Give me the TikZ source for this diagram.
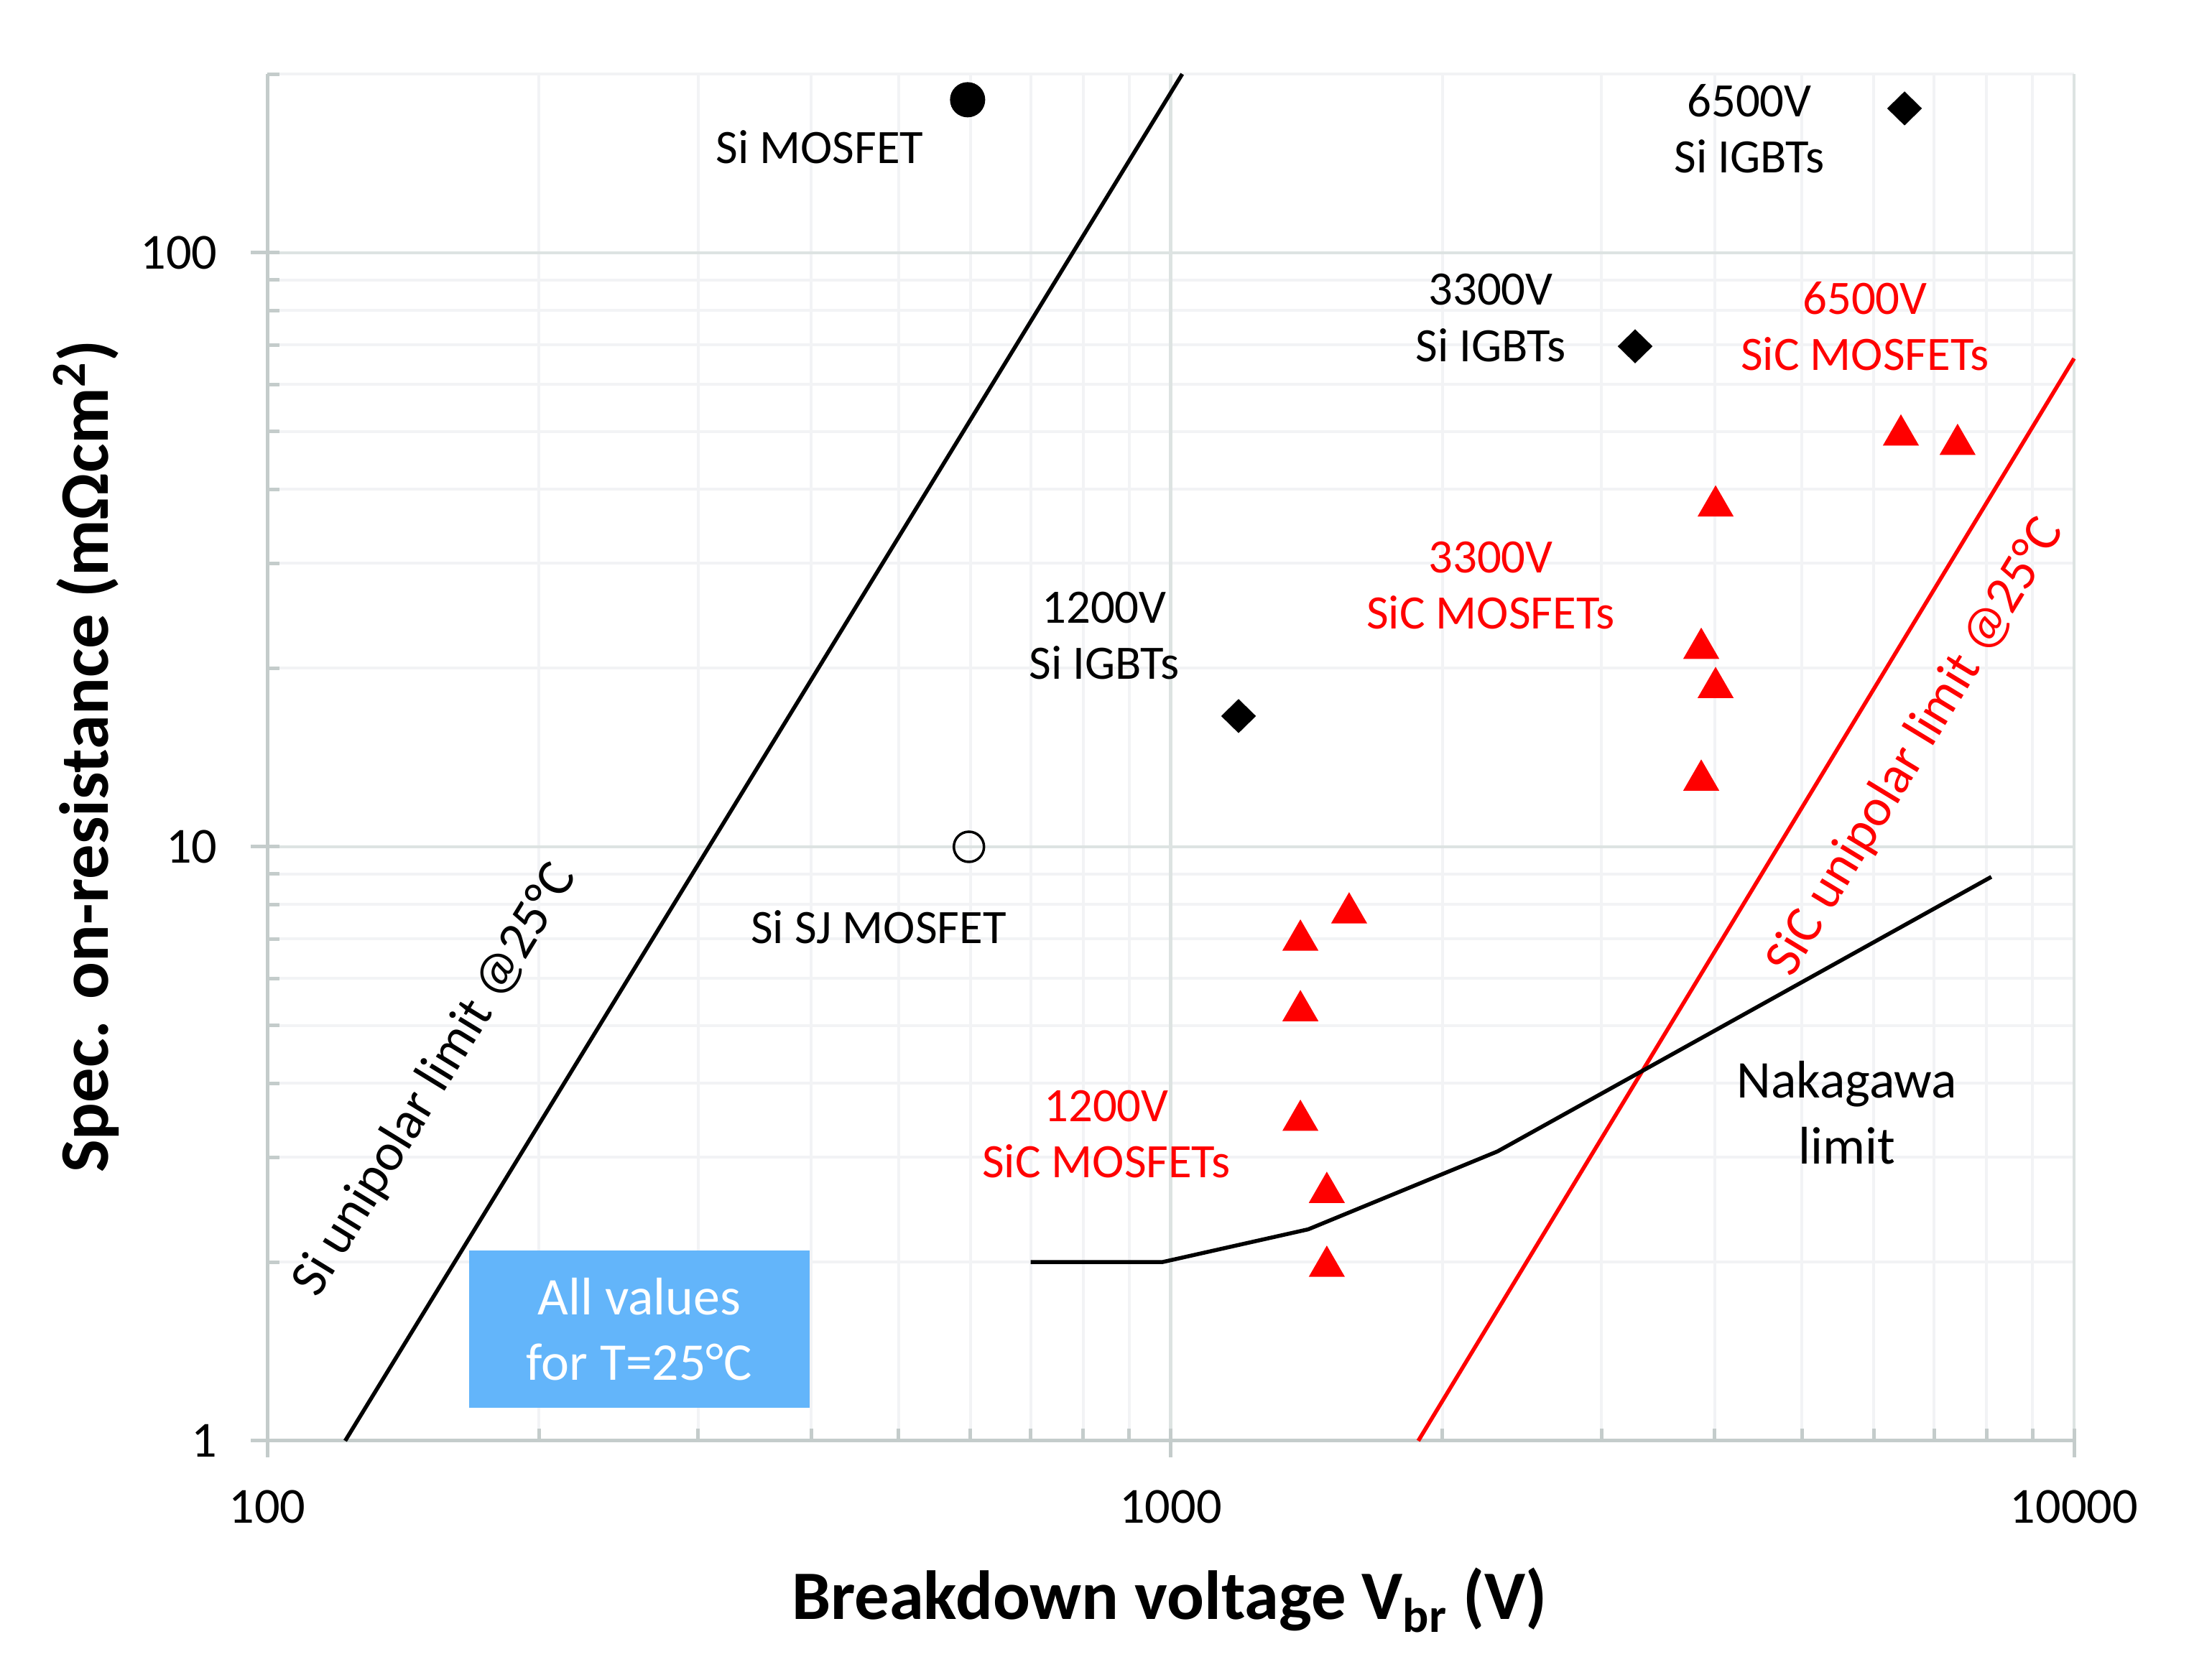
\documentclass[tikz,border=0pt]{standalone}
\usepackage{fontspec}
\setmainfont{Carlito}
\usetikzlibrary{positioning, shapes.geometric}

\definecolor{axisgray}{RGB}{196,204,203}
\definecolor{gridmajor}{RGB}{221,227,226}
\definecolor{gridminor}{RGB}{242,243,245}
\definecolor{notebox}{RGB}{99,181,250}
\definecolor{sicred}{RGB}{255,0,0}

\begin{document}
\begin{tikzpicture}[
    lim/.style={line width=0.055cm, line join=round},
    igbt/.style={diamond, fill=black, inner sep=0pt, minimum width=0.49cm, minimum height=0.48cm},
    sictri/.style={regular polygon, regular polygon sides=3, fill=sicred, inner sep=0pt, minimum size=0.58cm, yshift=-0.07cm},
    lbl/.style={font=\fontsize{19}{22.3}\selectfont, align=center, inner sep=0pt},
    biglbl/.style={font=\fontsize{21}{26}\selectfont, align=center, inner sep=0pt},
    ticklbl/.style={font=\fontsize{20}{24}\selectfont, inner sep=0pt},
    axtitle/.style={font=\bfseries\fontsize{27.5}{33}\selectfont, inner sep=0pt}
]
\useasboundingbox (0,0) rectangle (30.47,23.39);

% log-log plot area: x = log10(V)-2, y = log10(R)
\begin{scope}[shift={(3.72,3.33)}, x=12.575cm, y=8.27cm]

% grid
\foreach \d in {0,1}
  \foreach \m in {2,...,9} {
    \draw[gridminor, line width=0.04cm] ({\d+log10(\m)},0) -- ({\d+log10(\m)},{log10(200)});
    \draw[gridminor, line width=0.04cm] (0,{\d+log10(\m)}) -- (2,{\d+log10(\m)});
  }
\draw[gridminor, line width=0.04cm] (0,{log10(200)}) -- (2,{log10(200)});
\foreach \d in {1,2} {
  \draw[gridmajor, line width=0.045cm] (\d,0) -- (\d,{log10(200)});
  \draw[gridmajor, line width=0.045cm] (0,\d) -- (2,\d);
}

% axes and ticks
\foreach \d in {0,1}
  \foreach \m in {2,...,9} {
    \draw[axisgray, line width=0.05cm] ({\d+log10(\m)},0) -- ++(0,0.17cm);
    \draw[axisgray, line width=0.05cm] (0,{\d+log10(\m)}) -- ++(0.17cm,0);
  }
\draw[axisgray, line width=0.05cm] (0,{log10(200)}) -- ++(0.17cm,0);
\foreach \d in {0,1,2} {
  \draw[axisgray, line width=0.05cm] (\d,0) ++(0,0.17cm) -- ++(0,-0.40cm);
  \draw[axisgray, line width=0.05cm] (0,\d) ++(0.17cm,0) -- ++(-0.40cm,0);
}
\draw[axisgray, line width=0.05cm] (0,{log10(200)}) -- (0,0) -- (2,0);

% tick labels
\node[ticklbl, anchor=east, xshift=-0.69cm] (ty1) at (0,0) {1};
\node[ticklbl, anchor=east, xshift=-0.69cm] (ty10) at (0,1) {10};
\node[ticklbl, anchor=east, xshift=-0.69cm] (ty100) at (0,2) {100};
\node[ticklbl, yshift=-0.92cm] (tx100) at (0,0) {100};
\node[ticklbl, yshift=-0.92cm] (tx1000) at (1,0) {1000};
\node[ticklbl, yshift=-0.92cm] (tx10000) at (2,0) {10000};

% limits
\coordinate (silo) at ({log10(122)-2},0);
\coordinate (sihi) at ({log10(1030)-2},{log10(200)});
\coordinate (siclo) at ({log10(1880)-2},0);
\coordinate (sichi) at (2,{log10(66.4)});
\coordinate (nk1) at ({log10(700)-2},{log10(2)});
\coordinate (nk2) at ({log10(980)-2},{log10(2)});
\coordinate (nk3) at ({log10(1420)-2},{log10(2.27)});
\coordinate (nk4) at ({log10(2300)-2},{log10(3.07)});
\coordinate (nk5) at ({log10(8100)-2},{log10(8.9)});

\draw[lim] (silo) -- (sihi);
\draw[lim, sicred] (siclo) -- (sichi);
\draw[lim] (nk1) -- (nk2) -- (nk3) -- (nk4) -- (nk5);

% devices
\node[circle, fill=black, inner sep=0pt, minimum size=0.49cm] (simos) at ({log10(596)-2},{log10(181)}) {};
\node[circle, draw=black, line width=0.035cm, inner sep=0pt, minimum size=0.42cm] (sisj) at ({log10(598)-2},1) {};
\node[igbt] (igbt12) at ({log10(1189)-2},{log10(16.6)}) {};
\node[igbt] (igbt33) at ({log10(3267)-2},{log10(69.6)}) {};
\node[igbt] (igbt65) at ({log10(6492)-2},{log10(175)}) {};
\node[sictri] (sic12a) at ({log10(1392)-2},{log10(7.10)}) {};
\node[sictri] (sic12b) at ({log10(1576)-2},{log10(7.89)}) {};
\node[sictri] (sic12c) at ({log10(1392)-2},{log10(5.40)}) {};
\node[sictri] (sic12d) at ({log10(1392)-2},{log10(3.53)}) {};
\node[sictri] (sic12e) at ({log10(1489)-2},{log10(2.67)}) {};
\node[sictri] (sic12f) at ({log10(1489)-2},{log10(2.005)}) {};
\node[sictri] (sic33a) at ({log10(4011)-2},{log10(38.2)}) {};
\node[sictri] (sic33b) at ({log10(3867)-2},{log10(22.0)}) {};
\node[sictri] (sic33c) at ({log10(4011)-2},{log10(18.9)}) {};
\node[sictri] (sic33d) at ({log10(3867)-2},{log10(13.2)}) {};
\node[sictri] (sic65a) at ({log10(6432)-2},{log10(50.3)}) {};
\node[sictri] (sic65b) at ({log10(7432)-2},{log10(48.5)}) {};

\end{scope}

% note box
\node[fill=notebox, text=white, biglbl, minimum width=4.74cm, minimum height=2.19cm] (note) at (8.90,4.885) {All values\\for T=25°C};

% labels
\node[lbl] (lsimos) at (11.41,21.34) {Si MOSFET};
\node[lbl] (lsisj) at (12.23,10.48) {Si SJ MOSFET};
\node[lbl] (ligbt12) at (15.37,14.54) {1200V\\Si IGBTs};
\node[lbl] (ligbt33) at (20.75,18.965) {3300V\\Si IGBTs};
\node[lbl] (ligbt65) at (24.35,21.60) {6500V\\Si IGBTs};
\node[lbl, sicred] (lsic65) at (25.96,18.85) {6500V\\SiC MOSFETs};
\node[lbl, sicred] (lsic33) at (20.75,15.24) {3300V\\SiC MOSFETs};
\node[lbl, sicred] (lsic12) at (15.40,7.60) {1200V\\SiC MOSFETs};
\node[biglbl, font=\fontsize{21}{26.2}\selectfont] (lnaka) at (25.71,7.90) {Nakagawa\\limit};
\node[biglbl, rotate=58.5] (lsilim) at (6.06,8.35) {Si unipolar limit @25°C};
\node[biglbl, sicred, rotate=58.7] (lsiclim) at (26.67,12.99) {SiC unipolar limit @25°C};

% axis titles
\node[axtitle, anchor=base] (xtitle) at (16.28,0.84) {Breakdown voltage V\textsubscript{br} (V)};
\node[axtitle, anchor=base, rotate=90] (ytitle) at (1.50,12.86) {Spec. on-resistance (mΩcm\textsuperscript{2})};

\end{tikzpicture}
\end{document}
